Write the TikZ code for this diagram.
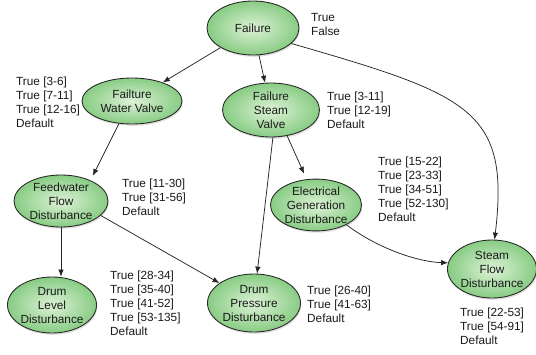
\documentclass[tikz,border=0pt]{standalone}
\usepackage{fontspec}
\setmainfont{Liberation Sans}
\usetikzlibrary{arrows.meta,shadows,shapes.geometric,calc}
\definecolor{nodeIn}{HTML}{DDF2D6}
\definecolor{nodeOut}{HTML}{88CC84}
\definecolor{edgec}{HTML}{262626}
\definecolor{txt}{HTML}{1A1A1A}
\begin{document}
\begin{tikzpicture}[x=1pt,y=-1pt,
  font=\fontsize{11.8}{14}\selectfont,
  bn/.style={ellipse, draw=black!85, line width=0.85pt, shading=radial,
    inner color=nodeIn, outer color=nodeOut, inner sep=0pt, align=center,
    text=txt, drop shadow={opacity=0.25, shadow xshift=0.8pt, shadow yshift=-1.8pt}},
  lbl/.style={align=left, inner sep=0pt, text=txt, anchor=west},
  arr/.style={draw=edgec, line width=0.75pt, -{Latex[length=7pt,width=5.5pt]}}]
\useasboundingbox (0,0) rectangle (536,354);
\fill[white] (0,0) rectangle (536,354);

% nodes
\node[bn, minimum width=92pt, minimum height=54pt] (fail) at (253,28) {Failure};
\node[bn, minimum width=100pt, minimum height=46pt] (fwv) at (132,101) {Failture\\Water Valve};
\node[bn, minimum width=97pt, minimum height=54pt] (fsv) at (271,110) {Failure\\Steam\\Valve};
\node[bn, minimum width=94pt, minimum height=52pt] (fwd) at (61,201) {Feedwater\\Flow\\Disturbance};
\node[bn, minimum width=91pt, minimum height=50pt] (elec) at (316,205) {Electrical\\Generation\\Disturbance};
\node[bn, minimum width=84pt, minimum height=56pt] (dl) at (52,305) {Drum\\Level\\Disturbance};
\node[bn, minimum width=93pt, minimum height=58pt] (dp) at (254,303) {Drum\\Pressure\\Disturbance};
\node[bn, minimum width=86pt, minimum height=58pt] (sfd) at (492,269) {Steam\\Flow\\Disturbance};

% state labels
\node[lbl] (lfail) at (311,24) {True\\False};
\node[lbl] (lfwv) at (16,102) {True [3-6]\\True [7-11]\\True [12-16]\\Default};
\node[lbl] (lfsv) at (327,110) {True [3-11]\\True [12-19]\\Default};
\node[lbl] (lfwd) at (122,197) {True [11-30]\\True [31-56]\\Default};
\node[lbl] (lelec) at (378,189) {True [15-22]\\True [23-33]\\True [34-51]\\True [52-130]\\Default};
\node[lbl] (ldl) at (110,303) {True [28-34]\\True [35-40]\\True [41-52]\\True [53-135]\\Default};
\node[lbl] (ldp) at (307,304) {True [26-40]\\True [41-63]\\Default};
\node[lbl] (lsfd) at (460,326) {True [22-53]\\True [54-91]\\Default};

% edges
\draw[arr] (fail) -- (fwv);
\draw[arr] (fail) -- (fsv);
\draw[arr] (fail.-22) .. controls (470,95) and (510,110) .. (sfd.85);
\draw[arr, shorten >=5pt] (fwv.-120) -- (fwd.35);
\draw[arr, shorten >=6pt] (fsv.-58) -- (elec.110);
\draw[arr] (fsv.-86) -- (dp.84);
\draw[arr] (fwd.south) -- (fwd.south |- dl.north);
\draw[arr] (fwd.-20) -- (dp.150);
\draw[arr] (elec.-33) .. controls (380,250) and (420,262) .. (sfd.172);
\end{tikzpicture}
\end{document}
